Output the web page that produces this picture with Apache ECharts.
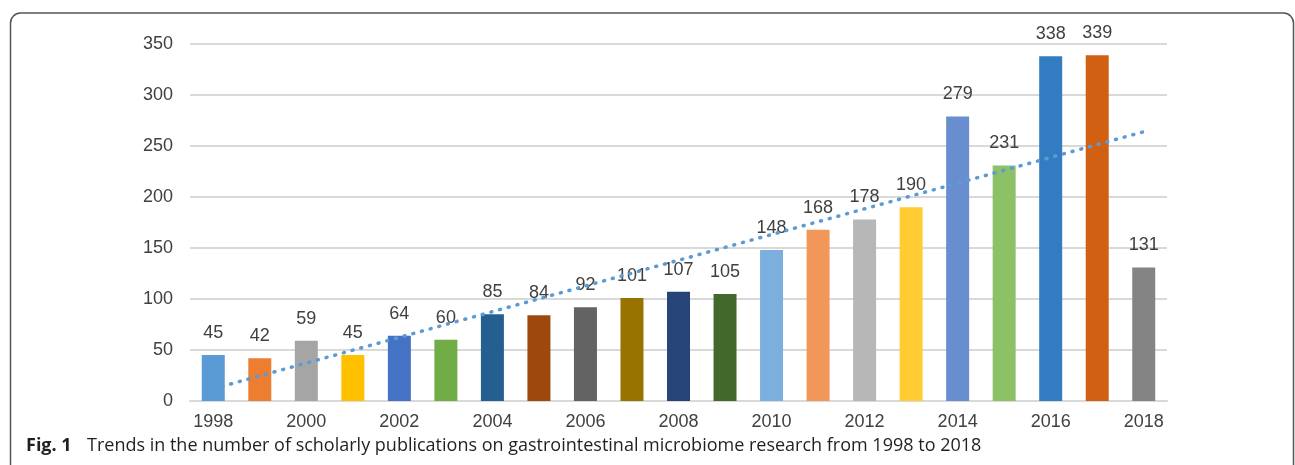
<!DOCTYPE html>
<html>
<head>
<meta charset="utf-8">
<script src="https://cdn.jsdelivr.net/npm/echarts@6/dist/echarts.min.js"></script>
<style>
html,body{margin:0;padding:0;background:#fff;}
#chart{width:1295px;height:465px;}
</style>
</head>
<body>
<div id="chart"></div>
<script>
const years = ['1998','1999','2000','2001','2002','2003','2004','2005','2006','2007','2008','2009','2010','2011','2012','2013','2014','2015','2016','2017','2018'];
const counts = [45,42,59,45,64,60,85,84,92,101,107,105,148,168,178,190,279,231,338,339,131];
const barColors = ['#5B9BD5','#ED7D31','#A5A5A5','#FFC000','#4472C4','#70AD47','#255E91','#9E480E','#636363','#997300','#264478','#43682B','#7CAFDD','#F1975A','#B7B7B7','#FFCD33','#698ED0','#8CC168','#327DC2','#D26012','#848484'];
const trendYears = ['1998','2018'];
const trendValues = [12, 264];
const yTicks = [0, 50, 100, 150, 200, 250, 300, 350];
const captionLabel = 'Fig. 1';
const captionText = 'Trends in the number of scholarly publications on gastrointestinal microbiome research from 1998 to 2018';

const chart = echarts.init(document.getElementById('chart'), null, {renderer:'canvas'});
const labelFont = '"Liberation Sans", Arial, sans-serif';
chart.setOption({
  animation:false,
  backgroundColor:'#fff',
  grid:{left:190, right:128, top:44, bottom:64, containLabel:false},
  xAxis:{
    type:'category', data:years,
    axisLine:{lineStyle:{color:'#d9d9d9', width:2}},
    axisTick:{show:false},
    axisLabel:{interval:1, color:'#404040', fontSize:18, fontFamily:labelFont, margin:12}
  },
  yAxis:{
    type:'value', min:yTicks[0], max:yTicks[yTicks.length-1], interval:50,
    axisLine:{show:false}, axisTick:{show:false},
    splitLine:{lineStyle:{color:'#d9d9d9', width:2}},
    axisLabel:{color:'#404040', fontSize:18, fontFamily:labelFont, margin:17}
  },
  series:[
    {
      type:'bar',
      data:counts.map((v,i)=>({value:v, itemStyle:{color:barColors[i]}})),
      barWidth:23,
      label:{show:true, position:'top', distance:13, color:'#404040', fontSize:18, fontFamily:labelFont},
      z:2
    },
    {
      type:'line',
      data:trendYears.map((y,i)=>[y, trendValues[i]]),
      symbol:'none',
      lineStyle:{color:'#5B9BD5', width:3.5, type:[1,8], cap:'round'},
      z:3
    }
  ],
  graphic:[
    {type:'rect', shape:{x:10.5, y:13, width:1283, height:520, r:10}, style:{fill:'none', stroke:'#555', lineWidth:1.5}, silent:true},
    {type:'text', left:26, top:437, style:{text:captionLabel, font:'bold 18px "Open Sans", sans-serif', fill:'#231f20'}},
    {type:'text', left:87, top:437, style:{text:captionText, font:'18px "Open Sans", sans-serif', fill:'#231f20'}}
  ]
});
</script>
</body>
</html>
